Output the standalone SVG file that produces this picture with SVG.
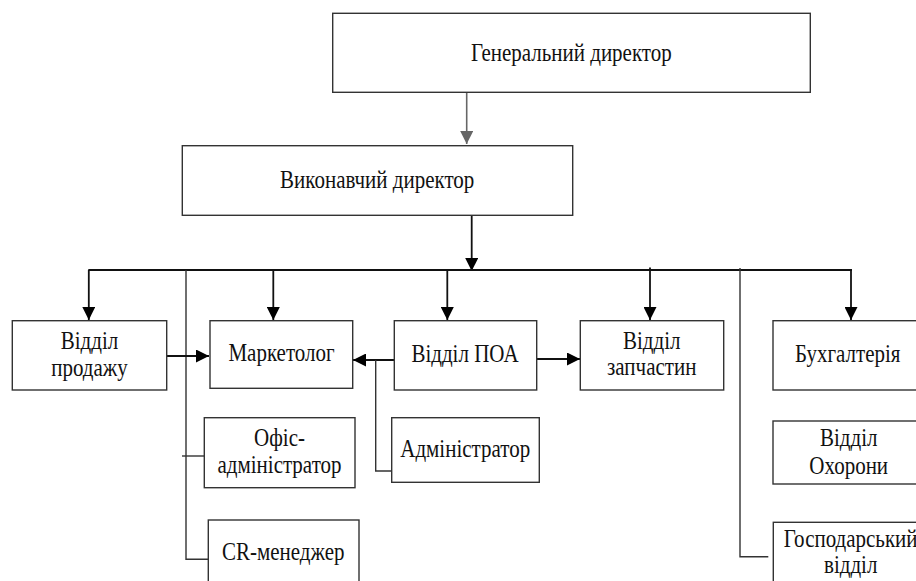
<svg xmlns="http://www.w3.org/2000/svg" width="916" height="581" viewBox="0 0 916 581">
<defs>
<marker id="ah" markerUnits="userSpaceOnUse" markerWidth="13" markerHeight="13" refX="13" refY="6.5" orient="auto"><path d="M0,0 L13,6.5 L0,13 z" fill="#000"/></marker>
<marker id="ahg" markerUnits="userSpaceOnUse" markerWidth="13" markerHeight="13" refX="13" refY="6.5" orient="auto"><path d="M0,0 L13,6.5 L0,13 z" fill="#666"/></marker>
<style>
.box{fill:#fff;stroke:#333;stroke-width:1.4}
text{font-family:'Liberation Serif','DejaVu Serif',serif;font-size:21px;fill:#111;text-anchor:middle}
.c{fill:none;stroke:#111;stroke-width:1.8}
.cg{fill:none;stroke:#333;stroke-width:1.4}
.a{fill:none;stroke:#111;stroke-width:1.8;marker-end:url(#ah)}
</style>
</defs>
<rect width="916" height="581" fill="#fff"/>
<g id="connectors">
<line x1="466.7" y1="92.3" x2="466.7" y2="144" stroke="#666" stroke-width="1.6" marker-end="url(#ahg)"/>
<line class="a" x1="471.7" y1="215.3" x2="471.7" y2="271"/>
<line class="c" x1="88.3" y1="270" x2="852" y2="270"/>
<line class="a" x1="88.8" y1="270" x2="88.8" y2="320"/>
<line class="a" x1="273.3" y1="270" x2="273.3" y2="320"/>
<line class="a" x1="447.3" y1="270" x2="447.3" y2="320"/>
<line class="a" x1="650" y1="267.5" x2="650" y2="320"/>
<line class="a" x1="851" y1="270" x2="851" y2="320"/>
<polyline class="cg" points="186,270 186,559.3 211.7,559.3"/>
<polyline class="cg" points="740,268 740,556.7 768.3,556.7"/>
<line class="cg" x1="182" y1="456" x2="204.3" y2="456"/>
<line class="a" x1="166.7" y1="356" x2="209" y2="356"/>
<line class="a" x1="394.3" y1="360" x2="353" y2="360"/>
<polyline class="cg" points="375.7,360 375.7,471 391.7,471"/>
<line class="a" x1="536.7" y1="359" x2="580" y2="359"/>
</g>
<g id="n-general"><rect class="box" x="332.7" y="13.3" width="477.6" height="79"/><text transform="translate(571.3 61) scale(1 1.15)">Генеральний директор</text></g>
<g id="n-exec"><rect class="box" x="182.3" y="145.7" width="390.4" height="69.6"/><text transform="translate(377.2 187.7) scale(1 1.15)">Виконавчий директор</text></g>
<g id="n-sales"><rect class="box" x="12.3" y="320.7" width="154.4" height="69.3"/><text transform="translate(89.5 349.3) scale(1 1.15)">Відділ</text><text transform="translate(89.5 376) scale(1 1.15)">продажу</text></g>
<g id="n-marketer"><rect class="box" x="210" y="320.7" width="142.7" height="67.6"/><text transform="translate(281.5 361) scale(1 1.15)">Маркетолог</text></g>
<g id="n-poa"><rect class="box" x="394.3" y="320.7" width="142.4" height="69.3"/><text transform="translate(465 361.7) scale(1 1.15)">Відділ ПОА</text></g>
<g id="n-parts"><rect class="box" x="580.3" y="320.7" width="143.4" height="69.3"/><text transform="translate(651.7 349.3) scale(1 1.15)">Відділ</text><text transform="translate(651.7 375) scale(1 1.15)">запчастин</text></g>
<g id="n-accounting"><rect class="box" x="773" y="320.7" width="152" height="69.3"/><text transform="translate(847.7 361.7) scale(1 1.15)">Бухгалтерія</text></g>
<g id="n-office"><rect class="box" x="204.3" y="417.7" width="150.7" height="70"/><text transform="translate(279.5 446) scale(1 1.15)">Офіс-</text><text transform="translate(279.5 473.3) scale(1 1.15)">адміністратор</text></g>
<g id="n-admin"><rect class="box" x="391.7" y="417.7" width="147.6" height="64.6"/><text transform="translate(465.2 456.7) scale(1 1.15)">Адміністратор</text></g>
<g id="n-security"><rect class="box" x="773" y="421" width="152" height="63"/><text transform="translate(848.7 446) scale(1 1.15)">Відділ</text><text transform="translate(848.7 474.3) scale(1 1.15)">Охорони</text></g>
<g id="n-cr"><rect class="box" x="208.3" y="520" width="150.7" height="80"/><text transform="translate(283.3 560) scale(1 1.15)">CR-менеджер</text></g>
<g id="n-household"><rect class="box" x="773.3" y="522.3" width="152" height="80"/><text transform="translate(850.7 546.7) scale(1 1.15)">Господарський</text><text transform="translate(850.7 573.3) scale(1 1.15)">відділ</text></g>
</svg>
